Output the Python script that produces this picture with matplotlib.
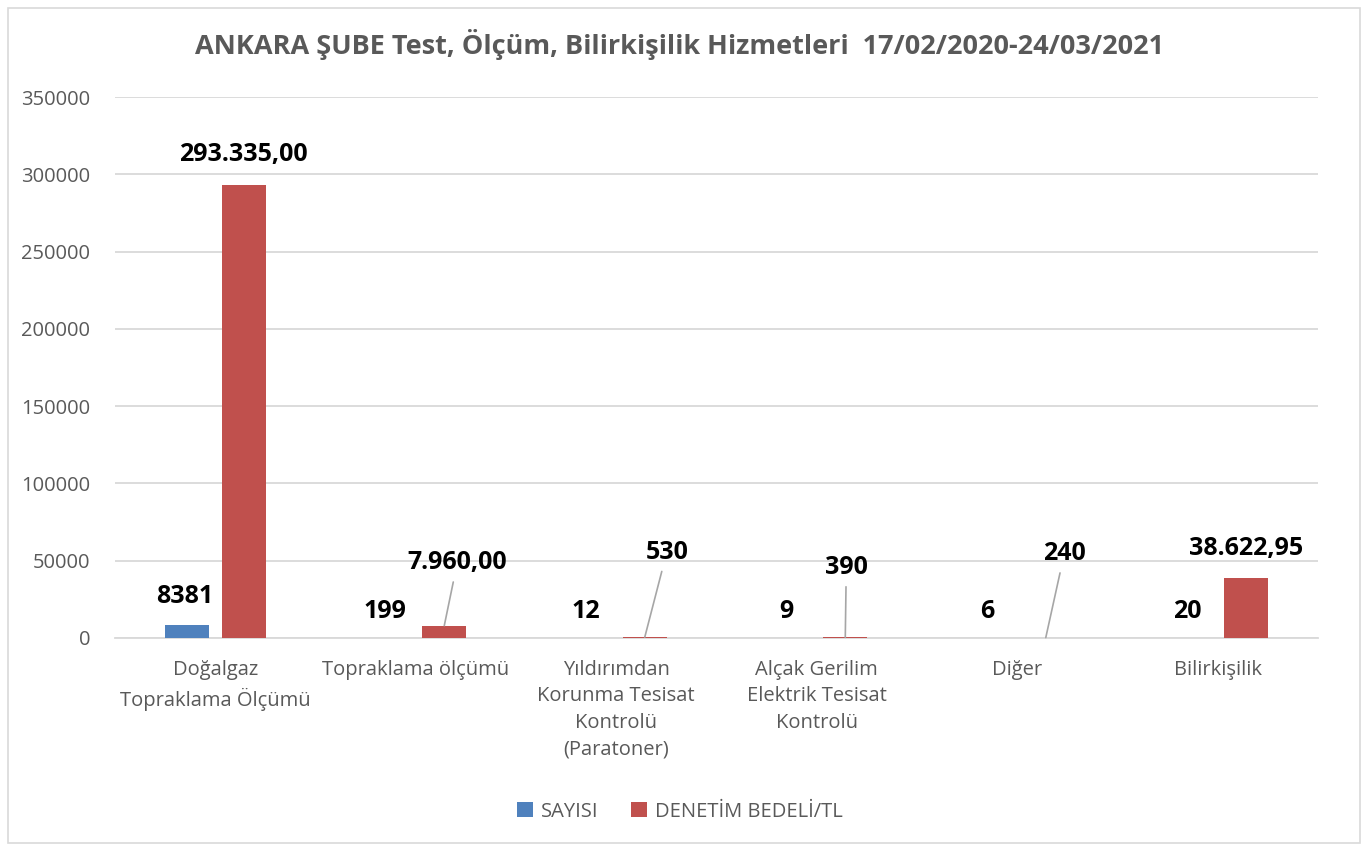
import matplotlib
matplotlib.use("Agg")
import matplotlib.pyplot as plt
import numpy as np
from matplotlib.patches import FancyBboxPatch

categories = ["Doğalgaz\nTopraklama Ölçümü", "Topraklama ölçümü",
              "Yıldırımdan\nKorunma Tesisat\nKontrolü\n(Paratoner)",
              "Alçak Gerilim\nElektrik Tesisat\nKontrolü", "Diğer", "Bilirkişilik"]
sayisi = [8381, 199, 12, 9, 6, 20]
bedel = [293335.00, 7960.00, 530, 390, 240, 38622.95]
sayisi_labels = ["8381", "199", "12", "9", "6", "20"]
bedel_labels = ["293.335,00", "7.960,00", "530", "390", "240", "38.622,95"]
yticks = [0, 50000, 100000, 150000, 200000, 250000, 300000, 350000]

BLUE = "#4F81BD"
RED = "#C0504D"
GRAY = "#595959"
GRID = "#D9D9D9"
FONT = ["Open Sans", "DejaVu Sans"]

plt.rcParams["font.family"] = FONT

fig = plt.figure(figsize=(13.68, 8.48), dpi=100)
fig.patches.append(FancyBboxPatch((0.006, 0.006), 0.988, 0.985, boxstyle="square,pad=0",
                                  transform=fig.transFigure, fill=False,
                                  edgecolor="#D9D9D9", linewidth=1.2))
ax = fig.add_axes([0.0841, 0.2477, 0.8794, 0.6379])

x = np.arange(len(categories))
w = 0.22
off = 0.142
b1 = ax.bar(x - off, sayisi, w, color=BLUE, label="SAYISI", zorder=3)
b2 = ax.bar(x + off, bedel, w, color=RED, label="DENETİM BEDELİ/TL", zorder=3)

ax.set_xlim(-0.5, len(categories) - 0.5)
ax.set_ylim(0, 350000)
ax.set_yticks(yticks)
ax.set_yticklabels([str(v) for v in yticks])
ax.yaxis.grid(True, color=GRID, linewidth=1.3, zorder=0)
ax.set_axisbelow(True)
for s in ["top", "right", "left"]:
    ax.spines[s].set_visible(False)
ax.spines["bottom"].set_color(GRID)
ax.spines["bottom"].set_linewidth(1.3)
ax.tick_params(axis="both", length=0, colors=GRAY, labelsize=14.5)
ax.tick_params(axis="y", pad=18)
ax.tick_params(axis="x", pad=16)
ax.set_xticks(x)
ax.set_xticklabels(categories, linespacing=1.42)

px = 0.72  # points per pixel
lab_kw = dict(fontsize=18, fontweight="bold", color="black", ha="center", va="center",
              textcoords="offset points")

# blue labels
for i, (v, t) in enumerate(zip(sayisi, sayisi_labels)):
    dy = 28 if i == 0 else 26
    ax.annotate(t, xy=(x[i] - off, v), xytext=(-2 * px, dy * px), **lab_kw)

# red labels (with leader lines for small ones)
leader = {1: (13, 63), 2: (22, 85), 3: (1, 70), 4: (18.5, 84)}
for i, (v, t) in enumerate(zip(bedel, bedel_labels)):
    if i in leader:
        dx, dy = leader[i]
        ax.annotate(t, xy=(x[i] + off, v), xytext=(dx * px, dy * px),
                    arrowprops=dict(arrowstyle="-", color="#A6A6A6", lw=1.2,
                                    shrinkA=3, shrinkB=0), **lab_kw)
    else:
        ax.annotate(t, xy=(x[i] + off, v), xytext=(0, 30 * px), **lab_kw)

fig.text(0.497, 0.947, "ANKARA ŞUBE Test, Ölçüm, Bilirkişilik Hizmetleri  17/02/2020-24/03/2021",
         ha="center", va="center", fontsize=19.5, fontweight="bold", color=GRAY)

fig.legend(handles=[b1, b2], loc="center", bbox_to_anchor=(0.497, 0.043), ncol=2,
           frameon=False, fontsize=14.5, labelcolor=GRAY, handlelength=0.8,
           handleheight=0.8, handletextpad=0.4, columnspacing=1.6)

fig.savefig("out.png", dpi=100)
